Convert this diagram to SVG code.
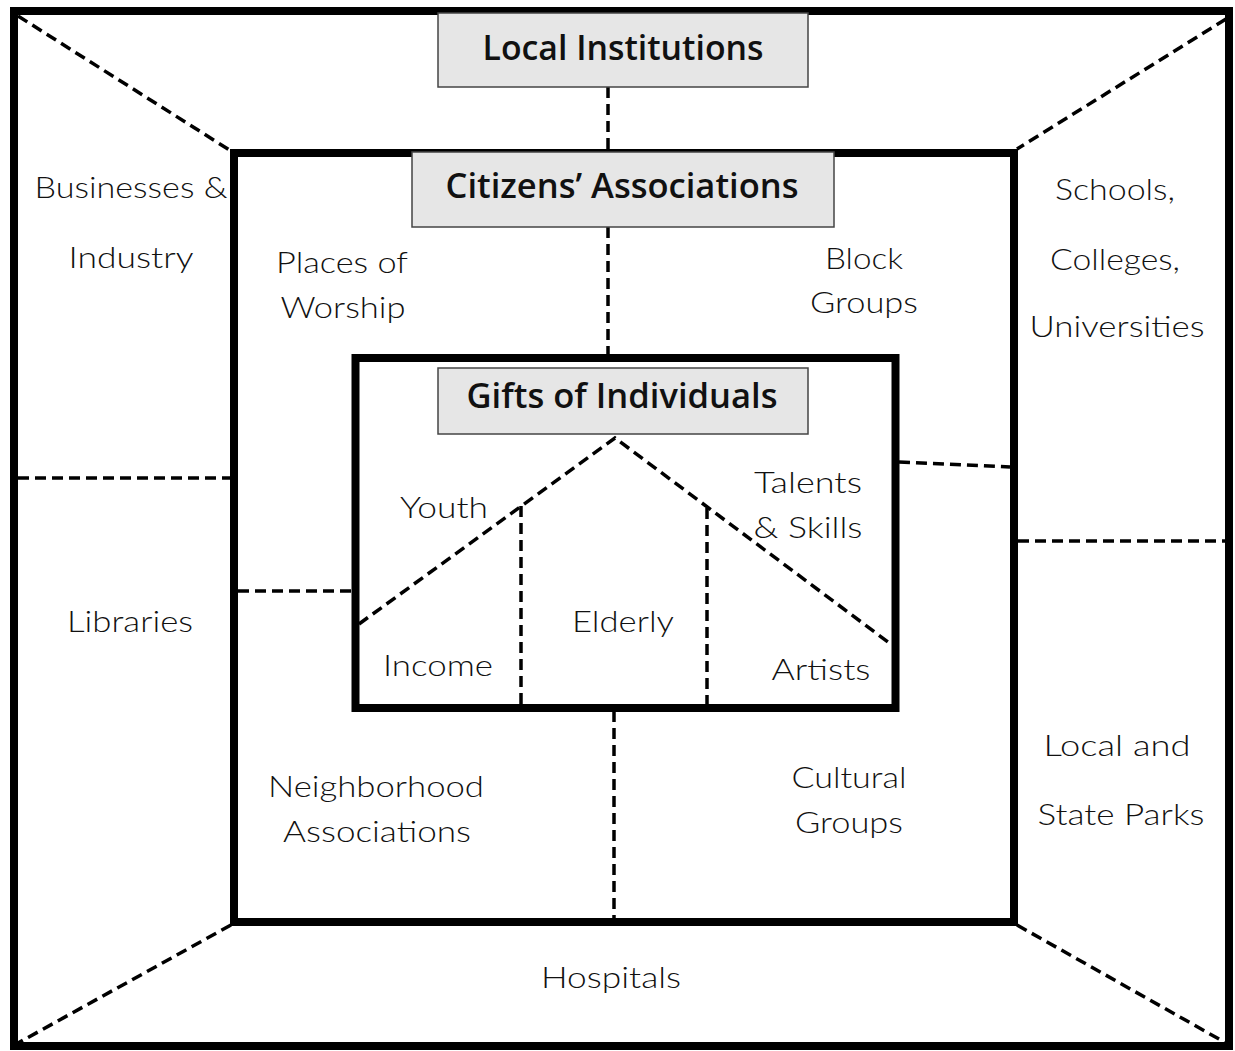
<svg xmlns="http://www.w3.org/2000/svg" width="1235" height="1051" viewBox="0 0 1235 1051">
<style>
.frame{fill:none;stroke:#000;stroke-width:8}
.dash{fill:none;stroke:#000;stroke-width:3.5;stroke-dasharray:11 6}
.title{fill:#e6e6e6;stroke:#444;stroke-width:1.5}
.tt{font-family:"Open Sans","Liberation Sans",sans-serif;font-weight:600;font-size:34px;fill:#111;text-anchor:middle}
.lb{font-family:"Lato","Open Sans","Liberation Sans",sans-serif;font-weight:300;font-size:29px;fill:#111;text-anchor:middle}
</style>
<rect width="1235" height="1051" fill="#fff"/>
<g id="local-institutions">
<rect class="frame" x="14" y="11" width="1215" height="1035"/>
</g>
<g id="citizens-associations">
<rect class="frame" x="234" y="153" width="780" height="769"/>
</g>
<g id="gifts-of-individuals">
<rect class="frame" x="355.5" y="358" width="540" height="350"/>
</g>
<g id="connectors">
<line class="dash" x1="18" y1="16" x2="231" y2="151"/>
<line class="dash" x1="1226" y1="19" x2="1017" y2="149"/>
<line class="dash" x1="231" y1="925" x2="18" y2="1043"/>
<line class="dash" x1="1017" y1="925" x2="1226" y2="1043"/>
<line class="dash" x1="608" y1="87" x2="608" y2="152"/>
<line class="dash" x1="608" y1="227" x2="608" y2="355"/>
<line class="dash" x1="614" y1="711" x2="614" y2="918"/>
<line class="dash" x1="18" y1="478" x2="230" y2="478"/>
<line class="dash" x1="238" y1="591" x2="352" y2="591"/>
<line class="dash" x1="899" y1="462" x2="1010" y2="467"/>
<line class="dash" x1="1018" y1="541" x2="1225" y2="541"/>
<polyline class="dash" points="359,624 615,438 892,645"/>
<line class="dash" x1="521" y1="506" x2="521" y2="705"/>
<line class="dash" x1="707" y1="508" x2="707" y2="705"/>
</g>
<g id="title-local">
<rect class="title" x="438" y="13" width="370" height="74"/>
<text class="tt" x="623" y="60" textLength="281" lengthAdjust="spacingAndGlyphs">Local Institutions</text>
</g>
<g id="title-citizens">
<rect class="title" x="412" y="152" width="422" height="75"/>
<text class="tt" x="622" y="198" textLength="353" lengthAdjust="spacingAndGlyphs">Citizens’ Associations</text>
</g>
<g id="title-gifts">
<rect class="title" x="438" y="368" width="370" height="66"/>
<text class="tt" x="622" y="408" textLength="311" lengthAdjust="spacingAndGlyphs">Gifts of Individuals</text>
</g>
<g id="outer-labels">
<text class="lb" x="131" y="198" textLength="193" lengthAdjust="spacingAndGlyphs">Businesses &amp;</text>
<text class="lb" x="131" y="268" textLength="125" lengthAdjust="spacingAndGlyphs">Industry</text>
<text class="lb" x="130" y="632" textLength="126" lengthAdjust="spacingAndGlyphs">Libraries</text>
<text class="lb" x="1115" y="200" textLength="120" lengthAdjust="spacingAndGlyphs">Schools,</text>
<text class="lb" x="1115" y="270" textLength="130" lengthAdjust="spacingAndGlyphs">Colleges,</text>
<text class="lb" x="1117" y="337" textLength="175" lengthAdjust="spacingAndGlyphs">Universities</text>
<text class="lb" x="1117" y="756" textLength="147" lengthAdjust="spacingAndGlyphs">Local and</text>
<text class="lb" x="1121" y="825" textLength="167" lengthAdjust="spacingAndGlyphs">State Parks</text>
<text class="lb" x="611" y="988" textLength="140" lengthAdjust="spacingAndGlyphs">Hospitals</text>
</g>
<g id="middle-labels">
<text class="lb" x="342" y="273" textLength="132" lengthAdjust="spacingAndGlyphs">Places of</text>
<text class="lb" x="343" y="318" textLength="125" lengthAdjust="spacingAndGlyphs">Worship</text>
<text class="lb" x="864" y="269" textLength="78" lengthAdjust="spacingAndGlyphs">Block</text>
<text class="lb" x="864" y="313" textLength="108" lengthAdjust="spacingAndGlyphs">Groups</text>
<text class="lb" x="376" y="797" textLength="216" lengthAdjust="spacingAndGlyphs">Neighborhood</text>
<text class="lb" x="377" y="842" textLength="188" lengthAdjust="spacingAndGlyphs">Associations</text>
<text class="lb" x="849" y="788" textLength="115" lengthAdjust="spacingAndGlyphs">Cultural</text>
<text class="lb" x="849" y="833" textLength="108" lengthAdjust="spacingAndGlyphs">Groups</text>
</g>
<g id="inner-labels">
<text class="lb" x="444" y="518" textLength="88" lengthAdjust="spacingAndGlyphs">Youth</text>
<text class="lb" x="808" y="493" textLength="108" lengthAdjust="spacingAndGlyphs">Talents</text>
<text class="lb" x="808" y="538" textLength="109" lengthAdjust="spacingAndGlyphs">&amp; Skills</text>
<text class="lb" x="623" y="632" textLength="102" lengthAdjust="spacingAndGlyphs">Elderly</text>
<text class="lb" x="438" y="676" textLength="110" lengthAdjust="spacingAndGlyphs">Income</text>
<text class="lb" x="821" y="680" textLength="99" lengthAdjust="spacingAndGlyphs">Artists</text>
</g>
</svg>
